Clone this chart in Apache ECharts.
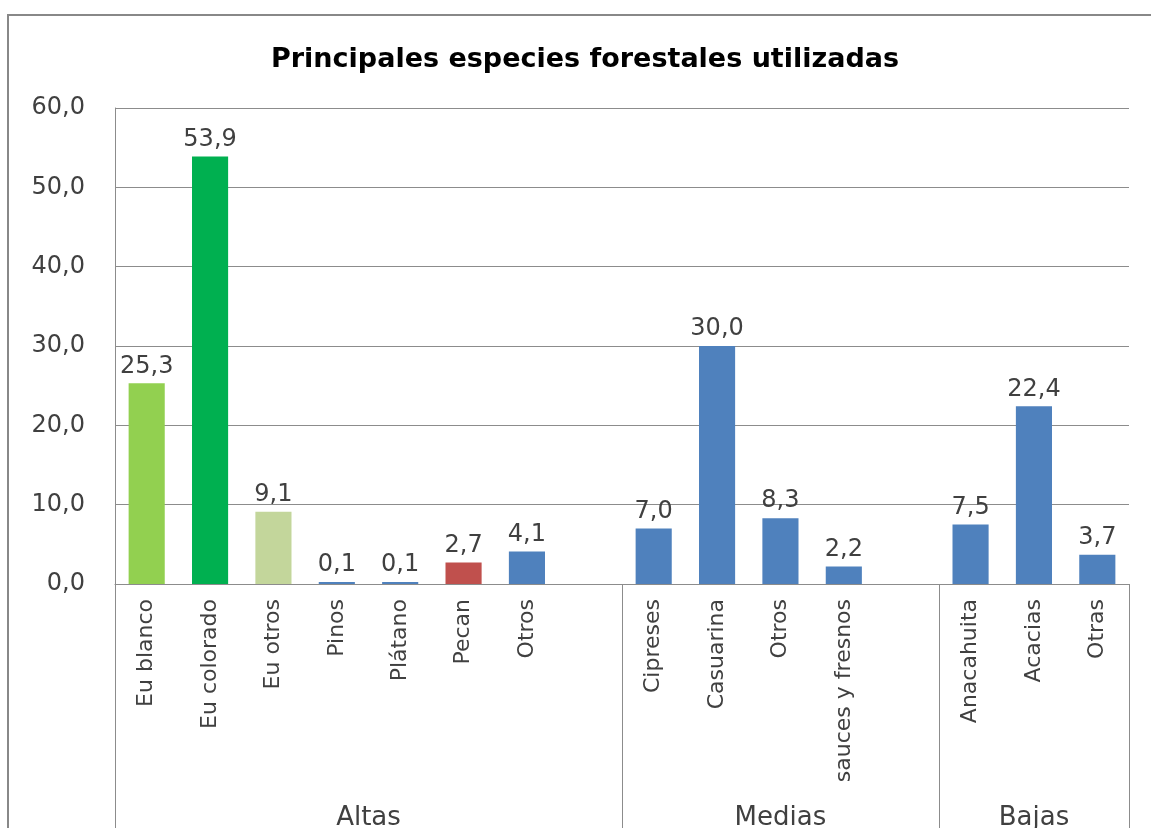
<!DOCTYPE html>
<html>
<head>
<meta charset="utf-8">
<script src="https://cdn.jsdelivr.net/npm/echarts@6/dist/echarts.min.js"></script>
<style>
  html, body { margin: 0; padding: 0; background: #fff; }
  #chart { width: 1151px; height: 828px; }
</style>
</head>
<body>
<div id="chart"></div>
<script>
// ---- data ----
const categories = ['Eu blanco', 'Eu colorado', 'Eu otros', 'Pinos', 'Plátano', 'Pecan', 'Otros', '',
                    'Cipreses', 'Casuarina', 'Otros', 'sauces y fresnos', '',
                    'Anacahuita', 'Acacias', 'Otras'];
const values = [25.3, 53.9, 9.1, 0.1, 0.1, 2.7, 4.1, null,
                7.0, 30.0, 8.3, 2.2, null,
                7.5, 22.4, 3.7];
const groupNames = ['Altas', 'Medias', 'Bajas'];
const groupSizes = [8, 5, 3];
const yMin = 0, yMax = 60, yStep = 10;

// ---- styles ----
const FONT = 'DejaVu Sans';
const TEXT = '#404040';
const LINE = '#8c8c8c';
const barColors = ['#92D050', '#00B050', '#C3D69B', '#4F81BD', '#4F81BD', '#C0504D', '#4F81BD', '#4F81BD',
                   '#4F81BD', '#4F81BD', '#4F81BD', '#4F81BD', '#4F81BD',
                   '#4F81BD', '#4F81BD', '#4F81BD'];

// group axis built on half-category steps (boundaryGap false)
const total = groupSizes.reduce((a, b) => a + b, 0);
const groupAxisData = new Array(total * 2 + 1).fill('');
const groupTicks = new Set([0]);
let start = 0;
groupNames.forEach((g, i) => {
  groupAxisData[2 * start + groupSizes[i]] = g;
  start += groupSizes[i];
  groupTicks.add(2 * start);
});

const fmt = v => v.toFixed(1).replace('.', ',');

const chart = echarts.init(document.getElementById('chart'), null, { renderer: 'canvas' });
chart.setOption({
  animation: false,
  backgroundColor: '#fff',
  textStyle: { fontFamily: FONT },
  graphic: [{
    type: 'rect',
    silent: true,
    shape: { x: 8, y: 15, width: 1400, height: 1000 },
    style: { fill: 'none', stroke: '#888', lineWidth: 2 }
  }],
  title: {
    text: 'Principales especies forestales utilizadas',
    left: 266,
    top: 41,
    textStyle: { fontFamily: FONT, fontSize: 27, fontWeight: 'bold', color: '#000' }
  },
  grid: { left: 115, right: 22, top: 108, bottom: 244, containLabel: false, outerBoundsMode: 'none' },
  xAxis: [{
    type: 'category',
    data: categories,
    axisLine: { show: true, lineStyle: { color: LINE, width: 1 } },
    axisTick: { show: false },
    axisLabel: {
      interval: 0, rotate: 90, margin: 15,
      fontFamily: FONT, fontSize: 22, color: TEXT
    },
    splitLine: { show: false }
  }, {
    type: 'category',
    position: 'bottom',
    boundaryGap: false,
    data: groupAxisData,
    axisLine: { show: false },
    axisTick: {
      show: true, length: 260,
      interval: (idx) => groupTicks.has(idx),
      lineStyle: { color: LINE, width: 1 }
    },
    axisLabel: {
      interval: 0, margin: 221,
      fontFamily: FONT, fontSize: 26, color: TEXT
    },
    splitLine: { show: false }
  }],
  yAxis: {
    type: 'value',
    min: yMin, max: yMax, interval: yStep,
    axisLine: { show: true, lineStyle: { color: LINE, width: 1 } },
    axisTick: { show: false },
    axisLabel: {
      margin: 30, formatter: fmt,
      fontFamily: FONT, fontSize: 24, color: TEXT
    },
    splitLine: { show: true, lineStyle: { color: LINE, width: 1 } }
  },
  series: [{
    type: 'bar',
    xAxisIndex: 0,
    data: values,
    barWidth: '57%',
    barMinHeight: 2,
    itemStyle: { color: p => barColors[p.dataIndex] },
    label: {
      show: true, position: 'top', distance: 5,
      formatter: p => (p.value == null ? '' : fmt(p.value)),
      fontFamily: FONT, fontSize: 24, color: TEXT
    }
  }]
});
</script>
</body>
</html>
